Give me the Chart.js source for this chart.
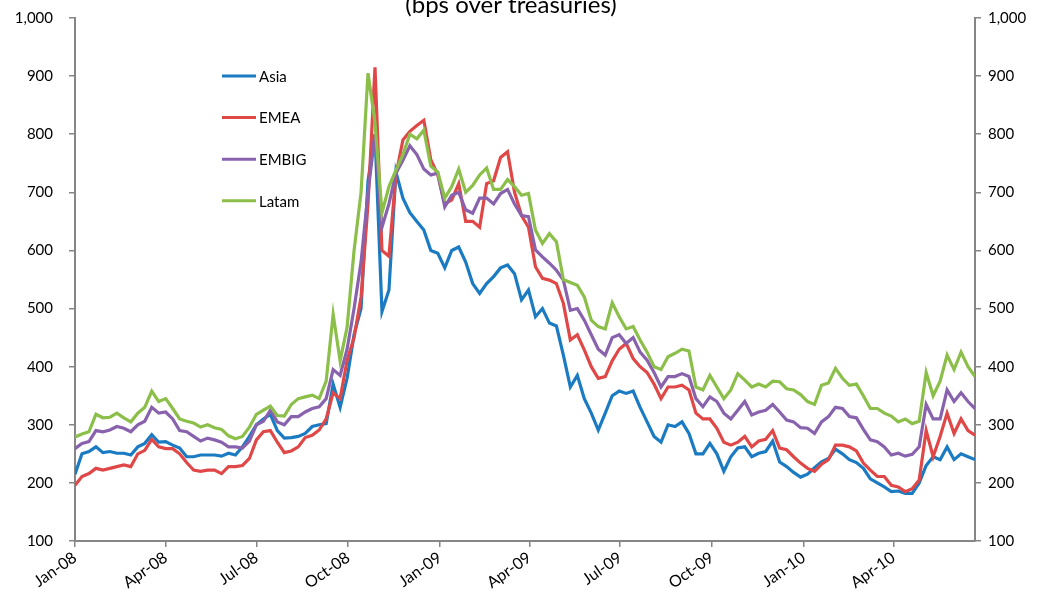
<!DOCTYPE html>
<html>
<head>
<meta charset="utf-8">
<script src="https://cdn.jsdelivr.net/npm/chart.js@4.4.1/dist/chart.umd.min.js"></script>
<style>
  html, body { margin: 0; padding: 0; background: #fff; }
  #wrap { width: 1042px; height: 596px; }
</style>
</head>
<body>
<div id="wrap"><canvas id="spreadChart" width="1042" height="596"></canvas></div>
<script>
// weekly readings, first point = 1 Jan 2008
const asia = [215,250,254,262,252,254,251,251,248,262,268,283,270,271,265,260,245,245,248,248,
  248,246,251,248,262,280,300,310,318,290,277,278,280,285,297,300,302,370,330,380,
  455,500,720,800,495,532,735,690,665,650,635,600,595,570,600,606,580,543,526,543,
  555,570,575,560,515,532,486,500,475,470,420,365,385,345,320,291,320,350,358,354,
  358,330,305,280,270,300,297,305,285,250,250,268,250,220,245,260,262,245,251,254,
  272,236,228,218,210,215,226,236,242,258,250,240,235,225,207,200,193,185,186,182,
  182,200,230,245,240,262,240,250,245,240];
const emea = [196,211,216,225,222,225,228,231,228,250,256,275,262,259,259,250,235,222,220,222,
  222,216,228,228,230,242,274,288,290,270,252,255,262,278,282,291,310,355,345,411,
  450,520,680,915,600,590,730,790,805,815,824,756,730,680,687,715,650,650,640,715,
  720,760,770,700,660,640,572,552,549,543,509,446,455,429,400,380,383,410,430,440,
  414,400,390,370,345,365,365,368,360,320,310,310,294,270,265,270,280,262,272,275,
  290,260,257,245,234,225,220,232,240,265,265,262,255,234,222,211,211,196,193,185,
  190,205,290,245,280,320,285,310,290,282];
const embig = [259,268,271,290,288,291,297,294,288,300,306,330,320,322,310,290,288,280,272,277,
  274,270,262,262,260,272,300,306,325,305,300,314,314,322,328,331,345,395,385,430,
  500,580,700,800,640,680,733,755,780,765,740,730,733,675,695,700,670,664,690,690,
  680,698,705,680,660,658,601,589,578,566,549,497,500,480,455,430,420,450,455,440,
  450,425,411,390,365,383,383,388,383,345,331,348,340,320,310,325,340,317,322,325,
  335,322,308,305,295,294,285,305,314,330,328,314,312,292,274,271,262,248,251,246,
  249,262,335,310,310,360,340,355,340,328];
const latam = [279,284,288,318,312,313,320,312,305,320,330,358,340,345,328,310,306,303,296,300,
  295,292,281,276,280,296,318,325,332,316,315,335,345,348,351,345,375,490,410,468,
  600,700,905,820,665,710,738,765,800,792,807,745,735,690,710,740,700,712,730,742,
  705,705,722,710,695,698,635,612,629,615,550,545,540,520,480,469,465,510,486,465,
  469,446,425,400,395,417,423,430,427,365,360,385,365,345,360,388,377,365,370,365,
  375,374,362,360,352,340,335,368,372,397,380,368,370,350,328,328,320,315,305,310,
  302,306,390,350,375,420,395,425,400,383];

const seriesNames = ['Asia', 'EMEA', 'EMBIG', 'Latam'];
const seriesColors = ['#1a7bc2', '#e04848', '#8862ad', '#8cbf4a'];

// day offsets from 1 Jan 2008 for the quarter ticks
const quarterDays = [0, 91, 182, 274, 366, 456, 547, 639, 731, 821];
const quarterLabels = ['Jan-08','Apr-08','Jul-08','Oct-08','Jan-09','Apr-09','Jul-09','Oct-09','Jan-10','Apr-10'];
const titleText = '(bps over treasuries)';

const weekDays = asia.map((v, i) => i * 7);
const lastDay = weekDays[weekDays.length - 1];

const axisGrey = '#868686';

function toPoints(values) {
    return values.map((v, i) => ({ x: weekDays[i], y: v }));
}

// title (cut at the top) and the in-plot legend
const overlay = {
    id: 'overlay',
    afterDraw(chart) {
        const ctx = chart.ctx;
        ctx.save();
        ctx.fillStyle = '#000';
        ctx.font = '24px Lato';
        ctx.textAlign = 'center';
        ctx.textBaseline = 'alphabetic';
        ctx.fillText(titleText, 511, 13);

        ctx.font = '15px Lato';
        ctx.textAlign = 'left';
        ctx.textBaseline = 'middle';
        chart.data.datasets.forEach(function (ds, i) {
            const y = 76 + i * 41.6;
            ctx.strokeStyle = ds.borderColor;
            ctx.lineWidth = 3;
            ctx.beginPath();
            ctx.moveTo(222, y);
            ctx.lineTo(256, y);
            ctx.stroke();
            ctx.fillText(ds.label, 259, y + 1);
        });
        ctx.restore();
    }
};

const yAxis = function (side, w, pad) {
    return {
        position: side,
        min: 100,
        max: 1000,
        ticks: {
            stepSize: 100,
            padding: pad,
            color: '#000',
            font: { family: 'Lato', size: 15 },
            callback: v => v.toLocaleString('en-US')
        },
        grid: { drawOnChartArea: false, drawTicks: true, tickLength: 6, color: axisGrey, lineWidth: 1.5 },
        border: { color: axisGrey, width: 2 },
        afterFit: function (s) {
            s.width = w;
            // label padding would otherwise push the plot top down
            s.paddingTop = 0;
            s.paddingBottom = 0;
        }
    };
};

const spreadChart = new Chart(document.getElementById('spreadChart'), {
    type: 'line',
    data: {
        datasets: [asia, emea, embig, latam].map(function (vals, i) {
            return {
                label: seriesNames[i],
                data: toPoints(vals),
                borderColor: seriesColors[i],
                backgroundColor: seriesColors[i],
                borderWidth: 3.2,
                pointRadius: 0,
                tension: 0,
                order: 4 - i
            };
        })
    },
    options: {
        responsive: false,
        animation: false,
        devicePixelRatio: 1,
        layout: { padding: { top: 18, left: 0, right: 0, bottom: 0 } },
        plugins: { legend: { display: false }, tooltip: { enabled: false }, title: { display: false } },
        scales: {
            x: {
                type: 'linear',
                min: 0,
                max: lastDay,
                afterBuildTicks: function (s) { s.ticks = quarterDays.map(v => ({ value: v })); },
                ticks: {
                    autoSkip: false,
                    minRotation: 35,
                    maxRotation: 35,
                    padding: 1,
                    color: '#000',
                    font: { family: 'Lato', size: 16 },
                    callback: (v, i) => quarterLabels[i]
                },
                grid: { drawOnChartArea: false, drawTicks: true, tickLength: 6, color: axisGrey, lineWidth: 1.5 },
                border: { color: axisGrey, width: 2 },
                afterFit: function (s) { s.height = 55; }
            },
            y: yAxis('left', 75, 16),
            y2: yAxis('right', 67, 7)
        }
    },
    plugins: [overlay]
});
</script>
</body>
</html>
